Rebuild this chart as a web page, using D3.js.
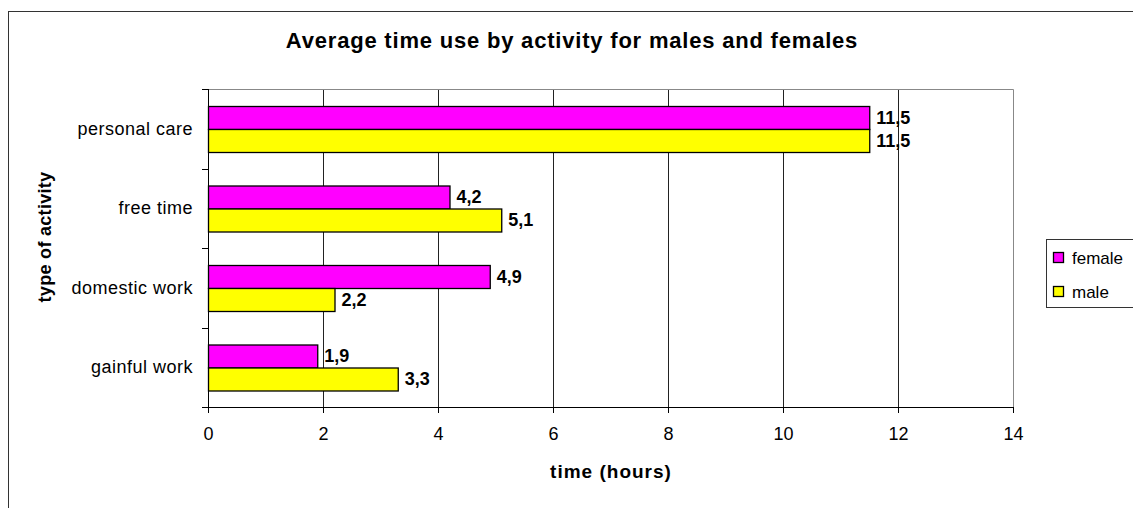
<!DOCTYPE html>
<html>
<head>
<meta charset="utf-8">
<script src="https://cdn.jsdelivr.net/npm/d3@7"></script>
<style>
  body { margin: 0; background: #fff; }
  svg { display: block; font-family: "Liberation Sans", Arial, sans-serif; }
</style>
</head>
<body>
<script>
var categories = ["personal care", "free time", "domestic work", "gainful work"];
var female = [11.5, 4.2, 4.9, 1.9];
var male = [11.5, 5.1, 2.2, 3.3];
var seriesNames = ["female", "male"];
var seriesColors = ["#ff00ff", "#ffff00"];
var xTicks = [0, 2, 4, 6, 8, 10, 12, 14];

var width = 1133, height = 508;
var plot = {left: 208, top: 89, right: 1013, bottom: 407};

var svg = d3.select("body").append("svg")
    .attr("width", width)
    .attr("height", height);

// outer chart border
svg.append("rect")
    .attr("x", 8.5).attr("y", 11.5)
    .attr("width", 1140).attr("height", 520)
    .attr("fill", "none").attr("stroke", "#333").attr("stroke-width", 1);

var x = d3.scaleLinear().domain([0, 14]).range([plot.left, plot.right]);
var y = d3.scaleBand().domain(categories).range([plot.top, plot.bottom]);
var inner = d3.scaleBand().domain(seriesNames)
    .range([0, y.bandwidth()]).paddingOuter(0.73).paddingInner(0);

// gridlines
svg.append("g").selectAll("line")
    .data(xTicks.slice(1, -1))
    .join("line")
    .attr("x1", function(d){return Math.round(x(d)) + 0.5;})
    .attr("x2", function(d){return Math.round(x(d)) + 0.5;})
    .attr("y1", plot.top).attr("y2", plot.bottom)
    .attr("stroke", "#222").attr("stroke-width", 1);

// plot area border (gray)
svg.append("path")
    .attr("d", "M" + plot.left + "," + (plot.top + 0.5) + "H" + (plot.right + 0.5) + "V" + plot.bottom)
    .attr("fill", "none").attr("stroke", "#888");

// bars
var rows = categories.map(function(c, i){
    return {cat: c, vals: [{s: "female", v: female[i]}, {s: "male", v: male[i]}]};
});

var groups = svg.append("g").selectAll("g")
    .data(rows)
    .join("g")
    .attr("transform", function(d){return "translate(0," + y(d.cat) + ")";});

groups.selectAll("rect")
    .data(function(d){return d.vals;})
    .join("rect")
    .attr("x", x(0) + 0.5)
    .attr("y", function(d){return Math.round(inner(d.s)) + 0.5;})
    .attr("width", function(d){return x(d.v) - x(0);})
    .attr("height", Math.round(inner.bandwidth()))
    .attr("fill", function(d){return seriesColors[seriesNames.indexOf(d.s)];})
    .attr("stroke", "#000").attr("stroke-width", 1.3);

groups.selectAll("text")
    .data(function(d){return d.vals;})
    .join("text")
    .attr("x", function(d){return x(d.v) + 7;})
    .attr("y", function(d){return inner(d.s) + inner.bandwidth() / 2;})
    .attr("dy", "0.36em")
    .attr("font-size", 18).attr("font-weight", "bold")
    .text(function(d){return String(d.v).replace(".", ",");});

// x axis
var xAxis = d3.axisBottom(x).tickValues(xTicks).tickSize(5);
var gx = svg.append("g")
    .attr("transform", "translate(0," + plot.bottom + ")")
    .call(xAxis);
gx.select(".domain").attr("d", "M" + (plot.left - 6) + ",0.5H" + plot.right).attr("stroke", "#000");
gx.selectAll(".tick line").attr("y1", 0).attr("y2", 6).attr("stroke", "#000");
gx.selectAll(".tick text")
    .attr("y", 33).attr("dy", 0)
    .attr("font-size", 18).attr("font-family", "Liberation Sans, Arial, sans-serif").attr("fill", "#000");

// y axis
var yAxis = d3.axisLeft(y).tickSize(0).tickPadding(15);
var gy = svg.append("g")
    .attr("transform", "translate(" + plot.left + ",0)")
    .call(yAxis);
gy.select(".domain").attr("d", "M0.5," + plot.top + "V" + plot.bottom).attr("stroke", "#000");
gy.selectAll(".tick text")
    .attr("font-size", 18).attr("letter-spacing", 0.5)
    .attr("font-family", "Liberation Sans, Arial, sans-serif").attr("fill", "#000");
// category separator ticks
var sep = [plot.top].concat(categories.map(function(c){return y(c) + y.bandwidth();}));
gy.append("g").selectAll("line")
    .data(sep)
    .join("line")
    .attr("x1", -6).attr("x2", 0)
    .attr("y1", function(d){return Math.round(d) + 0.5;})
    .attr("y2", function(d){return Math.round(d) + 0.5;})
    .attr("stroke", "#000");

// title
svg.append("text")
    .attr("x", 572).attr("y", 48)
    .attr("text-anchor", "middle")
    .attr("font-size", 22).attr("font-weight", "bold").attr("letter-spacing", 0.8)
    .text("Average time use by activity for males and females");

// axis titles
svg.append("text")
    .attr("x", 611).attr("y", 478)
    .attr("text-anchor", "middle")
    .attr("font-size", 19).attr("font-weight", "bold").attr("letter-spacing", 1)
    .text("time (hours)");

svg.append("text")
    .attr("transform", "translate(51,237) rotate(-90)")
    .attr("text-anchor", "middle")
    .attr("font-size", 18).attr("font-weight", "bold").attr("letter-spacing", 0.3)
    .text("type of activity");

// legend
var legend = svg.append("g").attr("transform", "translate(1046,239)");
legend.append("rect")
    .attr("x", 0.5).attr("y", 0.5).attr("width", 100).attr("height", 68)
    .attr("fill", "#fff").attr("stroke", "#333");
var items = legend.selectAll("g.item")
    .data(seriesNames)
    .join("g")
    .attr("class", "item")
    .attr("transform", function(d, i){return "translate(0," + (19 + i * 34) + ")";});
items.append("rect")
    .attr("x", 7.5).attr("y", -5.5).attr("width", 10).attr("height", 10)
    .attr("fill", function(d, i){return seriesColors[i];})
    .attr("stroke", "#000").attr("stroke-width", 1.3);
items.append("text")
    .attr("x", 26).attr("y", 0).attr("dy", "0.36em")
    .attr("font-size", 17)
    .text(function(d){return d;});
</script>
</body>
</html>
